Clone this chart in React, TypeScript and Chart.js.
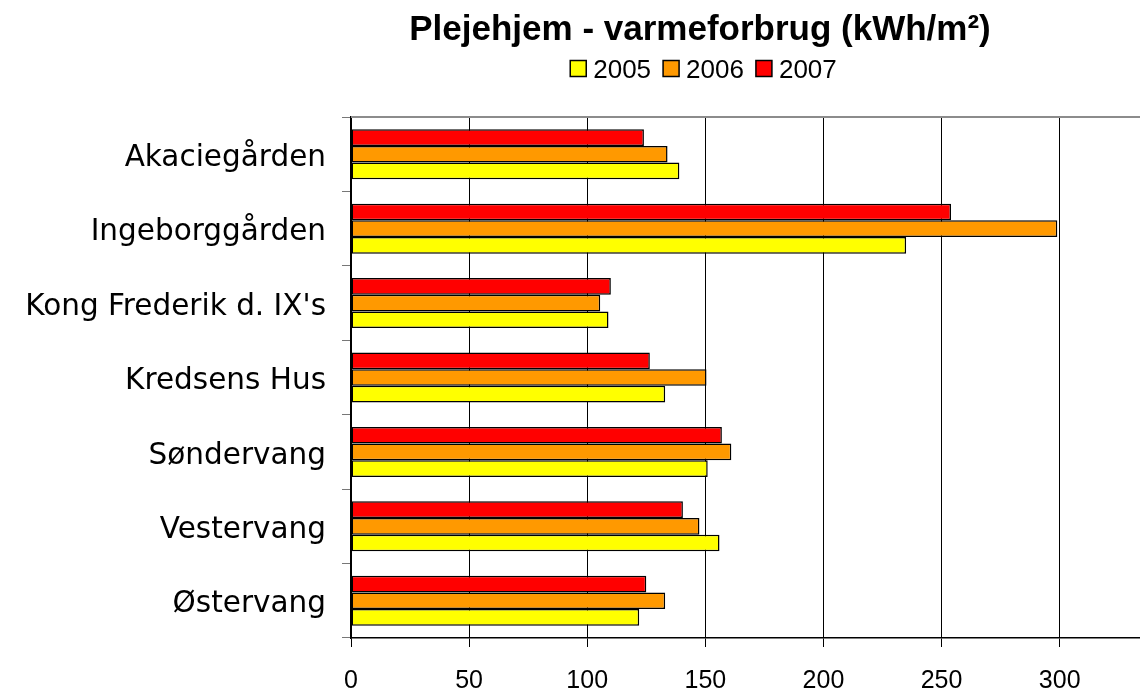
import React, { useEffect, useRef } from "react";
import { Chart, registerables } from "chart.js";

Chart.register(...registerables);

const chartTitle = "Plejehjem - varmeforbrug (kWh/m²)";
const categories = [
  "Akaciegården",
  "Ingeborggården",
  "Kong Frederik d. IX's",
  "Kredsens Hus",
  "Søndervang",
  "Vestervang",
  "Østervang",
];
const years = ["2005", "2006", "2007"];
const values2005 = [139, 235, 109, 133, 151, 156, 122];
const values2006 = [134, 299, 105.5, 150.5, 161, 147.5, 133];
const values2007 = [124, 254, 110, 126.5, 157, 140.5, 125];
const xTickValues = [0, 50, 100, 150, 200, 250, 300];
const xMax = 334;

const colors: Record<string, string> = {
  "2005": "#FFFF00",
  "2006": "#FF9900",
  "2007": "#FF0000",
};

const headerPlugin = {
  id: "header",
  afterDraw(chart: any) {
    const ctx = chart.ctx;
    const area = chart.chartArea;
    ctx.save();
    // plot area top border
    ctx.strokeStyle = "#8c8c8c";
    ctx.lineWidth = 2;
    ctx.beginPath();
    ctx.moveTo(area.left, area.top);
    ctx.lineTo(area.right, area.top);
    ctx.stroke();

    // title
    const cx = 700;
    ctx.fillStyle = "#000";
    ctx.font = "bold 35px 'Liberation Sans', Arial, sans-serif";
    ctx.textAlign = "center";
    ctx.textBaseline = "alphabetic";
    ctx.fillText(chartTitle, cx, 40);

    // legend
    ctx.font = "26px 'Liberation Sans', Arial, sans-serif";
    ctx.textAlign = "left";
    const box = 16;
    const gap = 7;
    const itemGap = 12;
    const widths = years.map((y) => ctx.measureText(y).width);
    const total =
      widths.reduce((a: number, w: number) => a + box + gap + w, 0) +
      itemGap * (years.length - 1);
    let x = 703.5 - total / 2;
    years.forEach((y, i) => {
      ctx.fillStyle = colors[y];
      ctx.fillRect(x, 60.5, box, box);
      ctx.strokeStyle = "#000";
      ctx.lineWidth = 1.5;
      ctx.strokeRect(x, 60.5, box, box);
      ctx.fillStyle = "#000";
      ctx.fillText(y, x + box + gap, 77.5);
      x += box + gap + widths[i] + itemGap;
    });
    ctx.restore();
  },
};

export default function App() {
  const ref = useRef<HTMLCanvasElement | null>(null);

  useEffect(() => {
    document.body.style.margin = "0";
    if (!ref.current) return;
    const mk = (label: string, data: number[]) => ({
      label,
      data,
      backgroundColor: colors[label],
      borderColor: "#000",
      borderWidth: 1.5,
      borderSkipped: false as any,
      barPercentage: 1.0,
      categoryPercentage: 0.672,
    });
    const chart = new Chart(ref.current, {
      type: "bar",
      data: {
        labels: categories,
        datasets: [
          mk("2007", values2007),
          mk("2006", values2006),
          mk("2005", values2005),
        ],
      },
      options: {
        indexAxis: "y",
        responsive: false,
        animation: false,
        layout: { padding: { top: 117, right: 0, bottom: 0, left: 0 } },
        plugins: {
          legend: { display: false },
          title: { display: false },
          tooltip: { enabled: false },
        },
        scales: {
          x: {
            min: 0,
            max: xMax,
            afterBuildTicks: (scale: any) => {
              scale.ticks = xTickValues.map((v) => ({ value: v }));
            },
            afterFit: (scale: any) => {
              scale.height = 52;
            },
            grid: {
              color: "#000",
              lineWidth: 1,
              drawTicks: true,
              tickLength: 9,
              tickColor: "#000",
            },
            border: { display: true, color: "#000", width: 1.5 },
            ticks: {
              color: "#000",
              padding: 19,
              maxRotation: 0,
              font: { family: "'Liberation Sans', Arial, sans-serif", size: 25 },
            },
          },
          y: {
            afterFit: (scale: any) => {
              scale.width = 351;
            },
            grid: {
              drawOnChartArea: false,
              drawTicks: true,
              tickLength: 9,
              tickColor: "#777",
              offset: true,
            },
            border: { display: true, color: "#000", width: 1.5 },
            ticks: {
              color: "#000",
              padding: 16,
              labelOffset: 4,
              font: { family: "'DejaVu Sans', Verdana, sans-serif", size: 29.5 },
            },
          },
        },
      },
      plugins: [headerPlugin],
    });
    return () => chart.destroy();
  }, []);

  return (
    <canvas
      ref={ref}
      width={1140}
      height={690}
      style={{ display: "block", width: 1140, height: 690 }}
    />
  );
}
